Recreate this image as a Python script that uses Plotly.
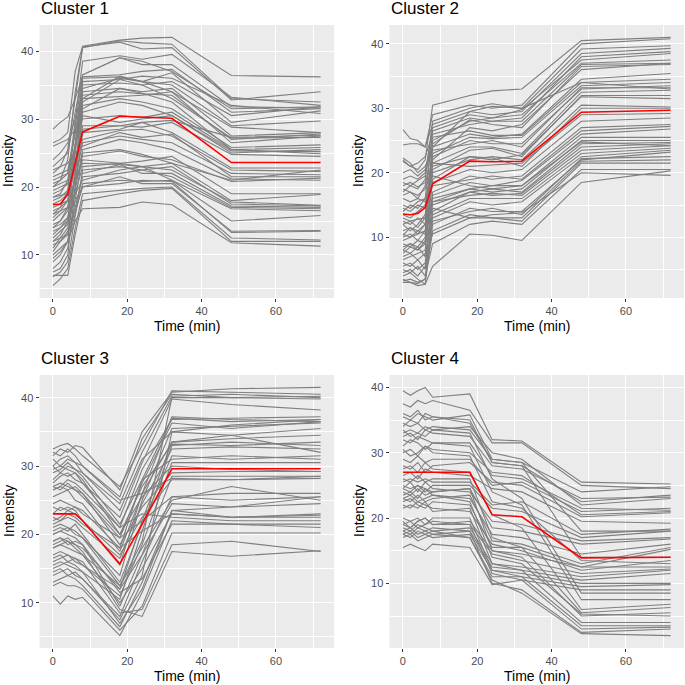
import plotly.graph_objects as go

TIME = [0, 2, 4, 6, 8, 18, 24, 32, 48, 72]
X_TICKS = [0, 20, 40, 60]
Y_TICKS = [10, 20, 30, 40]
TITLES = ["Cluster 1", "Cluster 2", "Cluster 3", "Cluster 4"]
X_LABEL = "Time (min)"
Y_LABEL = "Intensity"

cluster1 = [
    [26.5, 27.0, 28.0, 37.0, 40.7, 41.6, 41.9, 42.0, 36.4, 36.2],
    [22.0, 23.0, 25.5, 33.0, 40.5, 41.5, 41.2, 41.0, 33.0, 32.5],
    [20.0, 21.0, 24.0, 34.0, 40.6, 41.3, 40.3, 40.5, 32.8, 34.0],
    [18.5, 19.0, 21.0, 30.0, 38.5, 39.3, 38.8, 39.5, 33.2, 32.0],
    [16.0, 17.0, 19.5, 29.0, 36.5, 39.0, 38.5, 37.0, 31.5, 31.8],
    [28.5, 29.5, 30.3, 33.0, 36.2, 36.5, 37.0, 37.3, 31.0, 31.5],
    [14.0, 15.0, 17.0, 27.0, 36.0, 36.2, 35.5, 36.8, 29.5, 31.2],
    [12.0, 13.0, 15.0, 25.0, 35.5, 35.8, 36.3, 36.0, 32.0, 30.8],
    [20.5, 21.0, 22.0, 28.0, 35.0, 35.3, 35.0, 35.5, 30.5, 31.8],
    [9.0, 10.0, 12.0, 22.0, 34.5, 36.0, 35.5, 35.0, 29.0, 29.7],
    [17.5, 18.0, 19.0, 26.0, 34.0, 34.5, 34.0, 34.5, 27.5, 28.0],
    [24.0, 25.0, 26.5, 30.0, 33.5, 34.0, 33.7, 33.5, 27.0, 27.8],
    [15.5, 16.5, 18.0, 25.0, 33.0, 33.3, 33.5, 34.0, 26.5, 27.5],
    [11.0, 12.5, 14.0, 22.0, 32.5, 35.8, 35.0, 33.0, 27.2, 27.3],
    [19.0, 19.5, 20.5, 26.0, 32.0, 33.0, 32.5, 31.5, 25.8, 26.2],
    [7.5, 8.0, 10.0, 20.0, 31.5, 34.5, 33.8, 32.5, 25.5, 25.8],
    [21.0, 21.5, 22.0, 26.0, 31.0, 32.5, 32.0, 30.5, 25.0, 25.5],
    [13.0, 14.0, 15.5, 22.0, 30.5, 29.5, 30.0, 30.5, 25.3, 25.2],
    [26.0, 26.5, 27.0, 28.5, 30.0, 30.5, 30.2, 31.0, 25.5, 24.9],
    [16.5, 17.0, 18.0, 23.0, 29.0, 29.0, 28.8, 29.5, 24.8, 24.5],
    [10.5, 12.0, 13.0, 20.0, 28.0, 28.5, 29.5, 28.0, 22.8, 22.8],
    [18.0, 18.5, 19.5, 23.0, 27.0, 28.3, 28.5, 27.5, 22.5, 22.3],
    [14.5, 15.0, 16.5, 21.0, 26.5, 27.5, 27.0, 26.5, 22.0, 21.8],
    [22.5, 23.0, 23.5, 25.0, 26.0, 28.0, 27.3, 27.8, 21.5, 21.5],
    [12.5, 13.5, 14.5, 19.5, 25.5, 27.0, 26.5, 25.5, 21.2, 21.0],
    [8.0, 9.0, 11.0, 18.0, 25.0, 25.5, 24.8, 23.5, 21.0, 22.5],
    [20.0, 20.5, 21.0, 23.0, 24.5, 25.3, 24.5, 24.0, 20.8, 21.3],
    [15.0, 16.0, 17.0, 21.0, 24.0, 23.5, 23.8, 24.5, 19.0, 19.0],
    [17.0, 17.5, 18.0, 21.0, 23.5, 23.3, 23.0, 23.5, 18.0, 18.9],
    [13.5, 14.0, 15.0, 19.0, 23.0, 23.5, 23.0, 22.5, 17.8, 17.3],
    [6.8, 7.5, 9.0, 16.0, 22.5, 23.0, 22.5, 23.0, 17.5, 17.2],
    [19.5, 20.0, 20.5, 21.5, 22.0, 23.3, 22.0, 22.0, 17.2, 17.0],
    [11.5, 12.0, 13.5, 17.0, 21.5, 22.0, 22.5, 21.5, 17.0, 16.8],
    [16.0, 16.5, 17.0, 19.0, 21.0, 22.5, 23.0, 21.0, 16.8, 16.5],
    [9.5, 10.5, 12.0, 16.0, 20.5, 21.0, 20.8, 21.0, 15.0, 15.8],
    [14.0, 14.5, 15.5, 18.0, 20.0, 21.5, 20.5, 20.5, 13.5, 13.6],
    [12.0, 12.5, 13.0, 16.5, 20.0, 20.5, 21.0, 20.8, 13.3, 13.5],
    [5.5, 6.5, 8.0, 14.0, 19.0, 19.5, 19.8, 20.0, 12.5, 12.2],
    [7.0, 7.0, 7.0, 13.0, 18.0, 19.0, 19.5, 19.8, 12.0, 12.0],
    [10.0, 11.0, 12.0, 15.0, 16.8, 17.0, 17.8, 17.4, 11.8, 11.3],
    [18.5, 18.8, 19.0, 24.0, 28.5, 29.0, 29.5, 29.8, 27.3, 27.6],
    [21.5, 22.0, 22.5, 28.0, 33.0, 36.3, 35.5, 34.0, 28.8, 28.0],
    [23.0, 24.0, 25.0, 31.0, 36.5, 39.0, 38.0, 38.0, 31.8, 31.6],
]

cluster2 = [
    [22.0, 21.0, 20.5, 22.0, 30.5, 32.0, 32.7, 33.0, 40.5, 41.0],
    [24.3, 24.5, 24.5, 24.0, 29.0, 30.5, 30.0, 30.5, 40.0, 40.8],
    [17.0, 18.0, 17.5, 19.0, 28.0, 30.0, 30.7, 30.0, 39.2, 39.7],
    [26.7, 25.3, 25.0, 24.0, 27.5, 29.5, 29.0, 29.5, 38.5, 39.3],
    [14.0, 15.0, 14.5, 16.0, 26.5, 28.5, 28.0, 28.5, 38.0, 38.8],
    [19.0, 19.5, 19.0, 20.0, 27.0, 29.0, 28.5, 29.8, 37.5, 38.5],
    [10.3, 11.5, 11.0, 12.0, 25.0, 28.0, 28.5, 29.0, 37.0, 37.5],
    [21.8, 21.0, 21.5, 22.5, 26.0, 27.5, 28.0, 28.0, 36.8, 37.0],
    [16.5, 17.0, 16.0, 18.0, 24.5, 28.2, 27.5, 27.0, 36.5, 36.8],
    [8.0, 9.0, 8.5, 10.0, 24.0, 26.0, 25.5, 26.0, 34.5, 35.4],
    [18.5, 18.0, 18.8, 19.5, 25.5, 26.5, 25.8, 25.8, 34.0, 34.5],
    [13.5, 13.0, 14.0, 15.0, 23.0, 25.5, 25.3, 25.5, 33.5, 34.0],
    [12.0, 12.5, 11.5, 13.0, 22.5, 25.0, 24.5, 24.5, 33.0, 33.5],
    [22.3, 21.5, 20.0, 21.0, 23.5, 24.5, 25.0, 24.0, 33.2, 33.2],
    [9.5, 10.0, 10.5, 11.0, 21.5, 24.0, 24.0, 23.0, 32.5, 32.8],
    [7.5, 8.5, 8.0, 9.0, 20.5, 23.5, 23.8, 22.5, 32.0, 32.0],
    [17.5, 17.0, 16.5, 17.5, 21.0, 22.5, 22.0, 22.8, 31.8, 31.5],
    [14.5, 14.0, 15.0, 14.5, 20.0, 22.0, 22.5, 22.0, 30.5, 30.2],
    [6.5, 7.0, 7.5, 8.0, 19.0, 22.5, 22.3, 21.0, 30.0, 30.0],
    [18.0, 18.5, 17.8, 18.5, 21.5, 21.0, 21.2, 21.5, 29.0, 29.2],
    [10.0, 10.5, 9.5, 11.0, 18.5, 20.5, 20.0, 20.5, 28.0, 28.5],
    [5.5, 6.0, 5.0, 6.0, 17.0, 19.5, 19.0, 19.5, 27.0, 27.5],
    [16.0, 15.5, 16.0, 15.5, 18.0, 19.0, 19.5, 19.0, 26.5, 27.2],
    [8.5, 9.0, 8.0, 9.5, 16.5, 18.5, 18.0, 18.8, 26.0, 26.8],
    [12.5, 12.0, 13.0, 12.0, 16.0, 17.5, 18.0, 18.0, 25.5, 25.5],
    [4.5, 5.0, 4.0, 5.5, 15.5, 17.5, 17.0, 17.5, 25.0, 25.0],
    [11.0, 11.5, 10.5, 12.0, 15.0, 17.0, 17.5, 17.0, 24.5, 24.7],
    [3.2, 3.5, 3.0, 3.5, 14.0, 17.0, 16.5, 16.8, 24.0, 24.5],
    [13.0, 12.5, 12.8, 13.0, 15.5, 16.5, 16.8, 16.5, 23.5, 24.2],
    [9.0, 8.5, 9.5, 9.0, 13.5, 16.0, 16.0, 16.0, 23.0, 23.8],
    [7.0, 7.5, 6.5, 7.5, 13.0, 15.5, 15.0, 15.5, 22.5, 23.5],
    [4.0, 4.5, 3.5, 2.7, 12.0, 14.5, 14.0, 14.0, 22.0, 23.2],
    [6.0, 5.5, 6.5, 5.0, 12.5, 14.0, 14.5, 13.5, 22.2, 22.5],
    [3.0, 3.0, 2.8, 3.5, 11.0, 13.5, 13.0, 13.0, 21.8, 22.0],
    [8.0, 7.5, 8.5, 7.0, 10.5, 13.0, 13.0, 12.5, 21.5, 21.5],
    [5.0, 4.5, 5.5, 4.0, 9.0, 12.0, 12.5, 12.0, 20.5, 20.5],
    [3.5, 3.0, 2.5, 2.7, 5.5, 10.5, 10.3, 9.5, 18.5, 20.3],
    [10.5, 10.0, 11.0, 10.5, 14.5, 13.0, 13.5, 13.8, 20.0, 19.6],
    [15.0, 14.5, 15.5, 16.0, 19.5, 18.0, 17.5, 18.0, 24.8, 24.2],
    [20.0, 20.5, 19.5, 20.5, 24.0, 29.5, 30.3, 30.0, 34.0, 33.0],
    [12.0, 11.0, 12.0, 13.5, 22.0, 27.0, 26.5, 27.5, 36.0, 37.0],
]

cluster3 = [
    [32.5, 33.0, 33.3, 32.5, 31.5, 27.0, 33.0, 41.0, 40.8, 40.5],
    [31.5, 32.5, 32.0, 33.0, 32.7, 26.5, 35.0, 40.8, 41.3, 41.5],
    [30.0, 31.0, 31.5, 30.5, 30.0, 25.5, 34.0, 40.5, 40.0, 40.2],
    [29.0, 29.5, 30.5, 29.5, 29.0, 24.5, 32.0, 40.2, 40.5, 40.0],
    [27.5, 28.5, 29.0, 28.0, 27.5, 22.5, 30.5, 39.8, 39.0, 38.2],
    [21.5, 22.0, 23.0, 22.5, 21.5, 18.0, 28.0, 37.0, 36.5, 36.8],
    [26.5, 27.0, 28.0, 27.5, 26.5, 21.0, 29.5, 36.8, 37.0, 37.2],
    [23.0, 24.0, 23.5, 24.0, 23.0, 19.5, 27.5, 36.3, 35.5, 36.5],
    [20.0, 20.5, 21.0, 20.0, 19.5, 14.0, 25.0, 35.5, 35.8, 36.3],
    [31.0, 30.0, 31.0, 30.5, 29.0, 23.5, 31.0, 35.0, 34.5, 35.5],
    [18.5, 19.0, 19.5, 18.5, 18.0, 12.0, 22.0, 33.5, 34.0, 34.5],
    [28.0, 29.0, 28.5, 29.0, 28.0, 20.0, 27.0, 33.2, 33.0, 33.5],
    [15.5, 16.0, 15.5, 15.0, 14.5, 10.5, 20.5, 33.0, 33.5, 33.0],
    [22.5, 22.0, 22.5, 22.0, 21.0, 16.5, 24.5, 32.5, 32.8, 32.5],
    [20.5, 21.0, 20.5, 21.5, 20.0, 13.0, 21.5, 31.5, 31.0, 31.5],
    [30.0, 29.0, 30.0, 29.5, 28.5, 21.5, 28.0, 31.0, 31.5, 31.0],
    [16.0, 16.5, 17.0, 16.0, 15.5, 11.0, 18.5, 30.5, 30.5, 30.5],
    [26.5, 27.0, 26.5, 27.0, 26.0, 18.5, 24.0, 29.0, 29.2, 29.2],
    [19.0, 19.5, 18.5, 19.0, 18.5, 9.5, 17.0, 28.5, 28.5, 28.5],
    [24.0, 23.5, 24.0, 23.5, 22.0, 17.0, 22.5, 28.0, 28.0, 28.2],
    [14.0, 14.5, 15.0, 14.0, 13.5, 8.0, 16.0, 25.5, 26.0, 26.0],
    [27.0, 27.5, 27.0, 26.5, 25.5, 19.5, 22.0, 25.5, 25.0, 25.5],
    [21.0, 21.5, 21.0, 20.5, 19.5, 12.5, 18.0, 25.0, 27.0, 25.0],
    [13.0, 13.5, 14.0, 13.5, 12.5, 6.5, 13.0, 23.5, 24.0, 24.5],
    [18.0, 18.5, 18.0, 17.5, 17.0, 10.0, 15.0, 23.0, 22.5, 23.0],
    [15.0, 15.5, 16.0, 15.5, 14.5, 7.0, 12.0, 23.5, 22.5, 22.5],
    [29.5, 30.0, 29.5, 29.0, 27.5, 21.0, 23.0, 22.5, 22.0, 22.0],
    [11.0, 9.8, 11.0, 10.5, 10.8, 5.2, 11.5, 22.0, 21.5, 21.5],
    [20.0, 20.5, 20.0, 19.5, 18.5, 11.5, 13.5, 21.5, 21.5, 21.0],
    [12.5, 13.0, 12.5, 12.5, 12.0, 6.0, 9.5, 20.2, 20.2, 20.2],
    [17.0, 17.5, 17.0, 16.5, 16.0, 8.5, 9.0, 18.5, 19.0, 17.5],
    [19.0, 19.5, 19.0, 18.5, 17.5, 9.0, 8.0, 17.5, 16.8, 17.6],
    [25.5, 26.0, 26.5, 25.0, 24.5, 17.5, 26.0, 37.2, 36.8, 36.5],
    [22.0, 22.5, 23.5, 23.0, 22.0, 15.5, 26.0, 33.5, 34.5, 32.0],
    [27.0, 26.5, 27.5, 26.5, 26.0, 20.0, 25.5, 30.0, 29.5, 29.2],
    [32.0, 31.5, 32.5, 31.5, 30.0, 25.0, 26.0, 28.2, 28.0, 28.5],
    [16.5, 17.0, 16.0, 16.5, 15.5, 12.0, 17.0, 24.5, 24.0, 25.5],
    [24.5, 25.0, 24.5, 24.0, 23.5, 18.0, 20.5, 23.0, 22.5, 22.8],
    [14.5, 15.0, 14.0, 14.5, 13.5, 7.5, 14.0, 35.0, 36.0, 36.8],
    [18.0, 18.5, 19.0, 18.0, 17.0, 12.5, 19.0, 40.0, 40.0, 39.8],
]

cluster4 = [
    [39.5, 38.8, 39.5, 40.0, 38.5, 39.0, 32.0, 31.8, 25.5, 25.2],
    [37.5, 37.0, 38.0, 37.5, 38.0, 36.5, 31.5, 31.5, 25.0, 24.5],
    [35.5, 35.0, 36.0, 35.5, 35.0, 35.8, 29.0, 28.5, 24.0, 24.8],
    [34.0, 35.0, 34.5, 36.0, 35.5, 35.0, 28.5, 28.0, 22.5, 23.5],
    [33.5, 32.5, 33.0, 34.0, 33.5, 34.0, 30.0, 29.0, 22.0, 23.0],
    [32.5, 33.0, 32.0, 33.5, 33.0, 32.5, 28.0, 27.5, 23.0, 23.2],
    [31.0, 32.0, 31.5, 30.5, 31.5, 31.5, 26.5, 26.0, 21.5, 21.2],
    [30.5, 29.5, 30.0, 31.0, 30.5, 30.0, 27.0, 26.5, 20.5, 21.0],
    [29.0, 28.5, 29.5, 28.5, 29.0, 29.0, 25.0, 25.5, 21.0, 21.5],
    [28.0, 27.5, 28.5, 27.0, 28.0, 28.5, 25.5, 25.0, 20.2, 20.8],
    [26.5, 27.0, 26.0, 27.5, 27.0, 26.5, 24.5, 24.0, 19.5, 19.2],
    [25.5, 26.0, 25.5, 26.0, 25.5, 25.5, 22.0, 22.5, 17.5, 18.3],
    [25.0, 24.5, 25.0, 24.0, 25.0, 25.0, 21.5, 21.0, 17.0, 18.0],
    [24.5, 25.5, 24.0, 25.5, 24.5, 24.0, 19.5, 19.0, 16.5, 17.0],
    [24.0, 23.5, 24.5, 23.5, 24.0, 24.5, 18.5, 18.0, 16.0, 16.8],
    [23.5, 24.0, 23.0, 24.5, 23.5, 23.0, 17.5, 17.0, 14.5, 16.0],
    [23.0, 22.5, 23.5, 22.5, 23.0, 23.5, 16.5, 16.0, 13.0, 15.5],
    [22.5, 23.0, 22.0, 21.5, 22.5, 22.0, 15.5, 15.5, 12.5, 15.2],
    [22.0, 21.5, 22.5, 22.0, 21.5, 21.0, 16.0, 15.0, 12.0, 13.5],
    [19.5, 18.5, 19.5, 20.0, 19.0, 19.5, 15.0, 14.5, 12.5, 12.5],
    [19.0, 19.5, 18.5, 19.0, 19.5, 19.0, 14.5, 13.5, 11.5, 12.2],
    [18.5, 18.0, 19.0, 18.5, 18.0, 18.5, 13.0, 12.5, 11.0, 12.0],
    [18.0, 18.5, 17.5, 18.0, 18.5, 18.0, 12.5, 12.0, 10.5, 11.5],
    [17.5, 17.0, 18.0, 17.5, 17.0, 17.5, 12.0, 11.5, 10.0, 10.0],
    [17.0, 17.5, 16.5, 17.0, 17.5, 17.0, 11.0, 11.0, 9.5, 9.8],
    [15.5, 16.0, 15.5, 15.0, 16.0, 15.5, 9.8, 10.5, 9.0, 9.0],
    [33.0, 33.5, 33.0, 32.5, 33.5, 33.0, 26.0, 23.0, 8.5, 8.5],
    [32.0, 31.5, 32.5, 32.0, 31.5, 31.0, 24.0, 22.0, 7.5, 7.5],
    [27.5, 28.0, 27.0, 28.5, 27.5, 27.0, 20.5, 18.5, 6.0, 6.8],
    [26.0, 25.5, 26.5, 25.5, 26.0, 26.0, 17.0, 15.5, 5.5, 6.3],
    [24.5, 24.0, 25.0, 24.5, 24.0, 24.5, 15.0, 14.0, 5.0, 5.5],
    [23.0, 23.5, 22.5, 23.0, 23.5, 22.5, 14.0, 13.0, 5.3, 5.0],
    [21.5, 22.0, 21.5, 22.5, 21.0, 21.5, 13.0, 12.0, 4.0, 4.0],
    [20.0, 19.5, 20.0, 19.0, 20.0, 20.0, 12.0, 11.0, 3.5, 3.5],
    [19.0, 18.5, 19.5, 20.0, 19.0, 19.0, 11.5, 10.5, 3.0, 3.3],
    [18.0, 17.5, 18.5, 18.0, 17.5, 18.0, 10.0, 9.0, 2.5, 3.0],
    [17.5, 18.0, 17.0, 17.5, 18.0, 17.0, 10.5, 8.5, 2.3, 2.0],
    [36.0, 35.5, 36.5, 35.0, 35.5, 34.5, 28.5, 28.0, 14.0, 14.0],
    [30.0, 30.5, 29.5, 31.0, 30.0, 29.5, 22.5, 21.5, 13.5, 13.0],
    [34.5, 34.0, 34.5, 33.5, 34.0, 33.5, 29.0, 28.5, 18.0, 18.0],
]

centroid1 = [17.4, 17.5, 18.9, 23.5, 28.1, 30.4, 30.3, 30.1, 23.6, 23.6]
centroid2 = [13.6, 13.5, 13.7, 14.6, 18.3, 21.8, 21.7, 21.8, 29.4, 29.7]
centroid3 = [23.0, 23.0, 23.0, 23.0, 22.0, 15.7, 21.5, 29.6, 29.6, 29.6]
centroid4 = [27.0, 27.0, 27.0, 27.0, 27.0, 27.0, 20.5, 20.2, 13.9, 14.0]

CLUSTERS = [cluster1, cluster2, cluster3, cluster4]
CENTROIDS = [centroid1, centroid2, centroid3, centroid4]

W = H = 685
FONT = "Liberation Sans, Arial, Helvetica, sans-serif"
# plot-area boxes in pixels: (left, right, top, bottom)
BOXES = [(39.5, 334, 25, 298), (389.5, 684, 25, 298),
         (39.5, 334, 375, 648), (389.5, 684, 375, 648)]

fig = go.Figure()
layout = dict(
    width=W, height=H, margin=dict(l=0, r=0, t=0, b=0),
    paper_bgcolor="white", plot_bgcolor="#EBEBEB",
    showlegend=False, font=dict(family=FONT),
    annotations=[],
)

def px_x(p):
    return p / W

def px_y(p):
    return 1 - p / H

for i, (rows, cen) in enumerate(zip(CLUSTERS, CENTROIDS)):
    s = "" if i == 0 else str(i + 1)
    for r in rows:
        fig.add_trace(go.Scatter(x=TIME, y=r, mode="lines",
                                 line=dict(color="#7F7F7F", width=1.1),
                                 xaxis="x" + s, yaxis="y" + s, hoverinfo="skip"))
    fig.add_trace(go.Scatter(x=TIME, y=cen, mode="lines",
                             line=dict(color="#FF0000", width=1.6),
                             xaxis="x" + s, yaxis="y" + s, hoverinfo="skip"))
    allv = [v for r in rows for v in r] + cen
    lo, hi = min(allv), max(allv)
    pad = (hi - lo) * 0.05
    xlo, xhi = min(TIME), max(TIME)
    xpad = (xhi - xlo) * 0.05
    L, R, T, B = BOXES[i]
    common = dict(showgrid=True, gridcolor="white", gridwidth=1.3, zeroline=False,
                  showline=False, ticks="outside", ticklen=3, tickwidth=1,
                  tickcolor="#333333",
                  tickfont=dict(family=FONT, size=11, color="#4D4D4D"))
    layout["xaxis" + s] = dict(common, domain=[px_x(L), px_x(R)],
                               range=[xlo - xpad, xhi + xpad],
                               tickvals=X_TICKS, anchor="y" + s,
                               minor=dict(tickvals=[10, 30, 50, 70], showgrid=True,
                                          gridcolor="white", gridwidth=0.6, ticks=""))
    layout["yaxis" + s] = dict(common, domain=[px_y(B), px_y(T)],
                               range=[lo - pad, hi + pad],
                               tickvals=Y_TICKS, anchor="x" + s,
                               minor=dict(tickvals=[5, 15, 25, 35], showgrid=True,
                                          gridcolor="white", gridwidth=0.6, ticks=""))
    layout["annotations"] += [
        dict(text=TITLES[i], xref="paper", yref="paper", x=px_x(L - 1), y=px_y(T - 17),
             xanchor="left", yanchor="middle", showarrow=False,
             font=dict(family=FONT, size=17, color="black")),
        dict(text=X_LABEL, xref="paper", yref="paper", x=px_x((L + R) / 2), y=px_y(B + 28),
             xanchor="center", yanchor="middle", showarrow=False,
             font=dict(family=FONT, size=14, color="black")),
        dict(text=Y_LABEL, xref="paper", yref="paper", x=px_x(L - 31), y=px_y((T + B) / 2),
             xanchor="center", yanchor="middle", showarrow=False, textangle=-90,
             font=dict(family=FONT, size=14, color="black")),
    ]

fig.update_layout(**layout)
fig.write_html("out.html", config={"displayModeBar": False},
               post_script="document.body.style.margin='0px';document.body.style.overflow='hidden';")
